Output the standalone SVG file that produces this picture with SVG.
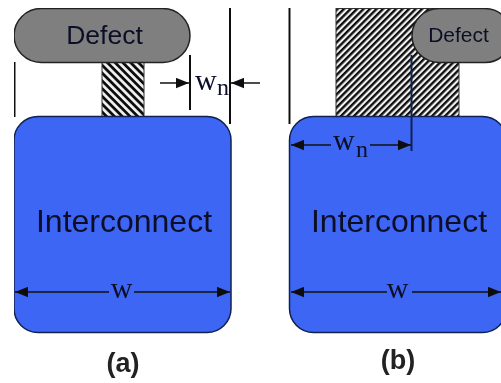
<svg xmlns="http://www.w3.org/2000/svg" width="501" height="383" viewBox="0 0 501 383">
<style>
.blue{fill:#3d66f5;stroke:#10204f;stroke-width:1.5}
.def{fill:#7f7f7f;stroke:#222;stroke-width:1.5}
.t{font-family:"Liberation Sans",Arial,sans-serif;fill:#0c1028}
.s{font-family:"Liberation Serif","Times New Roman",serif;fill:#0c1028}
.l{stroke:#111;fill:none;stroke-width:1.5}
.lab{font-family:"Liberation Sans",Arial,sans-serif;font-weight:bold;font-size:27px;fill:#222;text-anchor:middle}
</style>
<defs>
<filter id="soft" x="0" y="0" width="100%" height="100%"><feGaussianBlur stdDeviation="0.45"/></filter>
<marker id="a" viewBox="0 0 10 8" refX="10" refY="4" markerWidth="13" markerHeight="11" markerUnits="userSpaceOnUse" orient="auto-start-reverse"><path d="M0 0L10 4L0 8z" fill="#111"/></marker>
<pattern id="h1" width="5.500" height="5.500" patternUnits="userSpaceOnUse" patternTransform="rotate(45)"><rect width="5.500" height="5.500" fill="#f2f2f2"/><rect width="5.500" height="2.800" fill="#111"/></pattern>
<pattern id="h2" width="4.600" height="4.600" patternUnits="userSpaceOnUse" patternTransform="rotate(-45)"><rect width="4.600" height="4.600" fill="#f2f2f2"/><rect width="4.600" height="2.400" fill="#111"/></pattern>
</defs>
<rect width="501" height="383" fill="#fff"/>
<g filter="url(#soft)">
<g id="hatch-a"><rect x="102" y="62" width="42" height="55" fill="url(#h1)" stroke="#333"/></g>
<g id="hatch-b"><rect x="336" y="8.500" width="123" height="108" fill="url(#h2)" stroke="#333"/></g>
<g id="interconnect-a"><rect x="14" y="116.500" width="217" height="216" rx="24" class="blue"/><text x="124" y="232" class="t" font-size="32" text-anchor="middle">Interconnect</text></g>
<g id="interconnect-b"><rect x="289.500" y="116.500" width="217" height="216" rx="24" class="blue"/><text x="399" y="232" class="t" font-size="32" text-anchor="middle">Interconnect</text></g>
<g id="connectors">
<path class="l" style="stroke-width:2" d="M14.500 62V117M190 55V110M230 8V124M289.500 8V124"/>
<path class="l" style="stroke:#10204f;stroke-width:2" d="M411.500 55V151"/>
<path class="l" d="M160 83H189" marker-end="url(#a)"/>
<path class="l" d="M260 83H231" marker-end="url(#a)"/>
<path class="l" d="M291 145H331" marker-start="url(#a)"/>
<path class="l" d="M370 145H411" marker-end="url(#a)"/>
<path class="l" d="M15 292H109" marker-start="url(#a)"/>
<path class="l" d="M134 292H230" marker-end="url(#a)"/>
<path class="l" d="M291 292H387" marker-start="url(#a)"/>
<path class="l" d="M412 292H501" marker-end="url(#a)"/>
</g>
<g id="defect-a"><rect x="14" y="8.500" width="176" height="54" rx="27" class="def"/><text x="104.500" y="44" class="t" font-size="26.500" text-anchor="middle">Defect</text></g>
<g id="defect-b"><rect x="412" y="8.500" width="100" height="54" rx="27" class="def"/><text x="458.500" y="42" class="t" font-size="21" text-anchor="middle">Defect</text></g>
<g id="labels">
<text x="195" y="90" class="s" font-size="30">w</text><text x="217" y="95" class="s" font-size="24">n</text>
<text x="333" y="150" class="s" font-size="30">w</text><text x="356" y="157" class="s" font-size="24">n</text>
<text x="121.500" y="298" class="s" font-size="30" text-anchor="middle">w</text>
<text x="397.500" y="298" class="s" font-size="30" text-anchor="middle">w</text>
<text x="123" y="372" class="lab">(a)</text>
<text x="398" y="369" class="lab">(b)</text>
</g>
</g>
</svg>
